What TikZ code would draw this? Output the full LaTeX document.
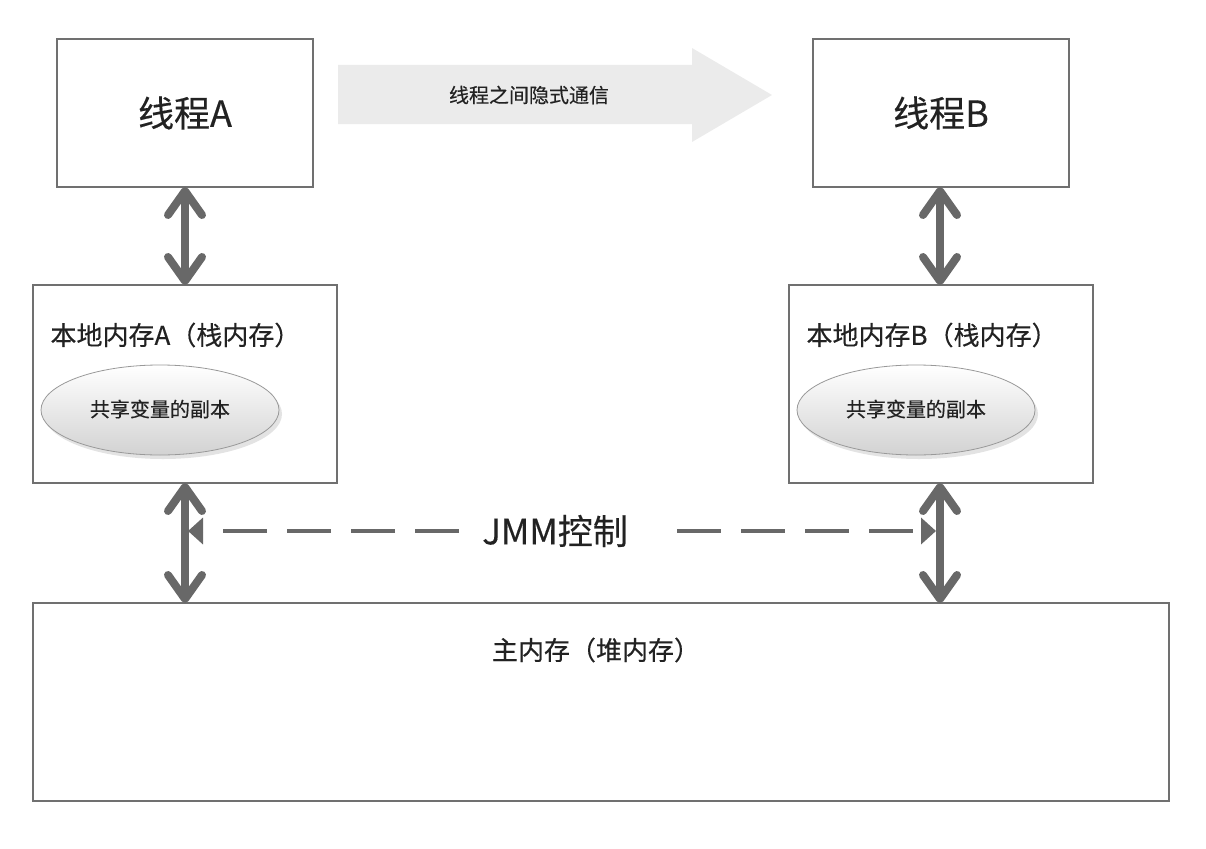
\documentclass[tikz,border=0pt]{standalone}
\usepackage{fontspec}
\setmainfont[FakeBold=0.35]{Noto Sans CJK SC}
\usetikzlibrary{arrows.meta,shapes.geometric,shadows}
\definecolor{boxline}{HTML}{707070}
\definecolor{arrowgray}{HTML}{686868}
\definecolor{txt}{HTML}{222222}
\definecolor{bigarrow}{HTML}{EBEBEB}
\tikzset{
  box/.style={draw=boxline, line width=1.3pt, fill=white, inner sep=0pt},
  titletext/.style={font=\fontsize{36}{42}\selectfont, text=txt},
  labeltext/.style={font=\fontsize{26}{31}\selectfont, text=txt},
  smalltext/.style={font=\fontsize{20}{24}\selectfont, text=txt},
  copyell/.style={ellipse, draw=gray!80, line width=0.8pt, minimum width=238pt, minimum height=90pt,
    top color=white, bottom color=gray!35, inner sep=0pt,
    drop shadow={shadow xshift=3pt, shadow yshift=-4pt, opacity=0.22}},
  dbl/.style={draw=arrowgray, line width=8pt,
    {Straight Barb[round,length=24pt,width=34pt]}-{Straight Barb[round,length=24pt,width=34pt]}},
  jmmline/.style={draw=arrowgray, line width=4pt, dash pattern=on 44pt off 20pt,
    -{Triangle[length=15pt,width=26pt]}},
}
\begin{document}
\begin{tikzpicture}[x=1pt,y=-1pt]
\useasboundingbox (0,0) rectangle (1206,848);
% thread boxes
\node[box, minimum width=256pt, minimum height=148pt] (tA) at (185,113) {};
\node[titletext] (tAt) at (185,113) {线程A};
\node[box, minimum width=256pt, minimum height=148pt] (tB) at (941,113) {};
\node[titletext] (tBt) at (941,113) {线程B};
% big arrow
\fill[bigarrow] (338,65) -- (692,65) -- (692,48) -- (772,95) -- (692,142) -- (692,124) -- (338,124) -- cycle;
\node[smalltext] (comm) at (529,95) {线程之间隐式通信};
% local memories
\node[box, minimum width=304pt, minimum height=198pt] (lA) at (185,384) {};
\node[labeltext, anchor=west] (lAt) at (47,335) {本地内存A（栈内存）};
\node[copyell] (eA) at (160,410) {};
\node[smalltext] (eAt) at (160,409) {共享变量的副本};
\node[box, minimum width=304pt, minimum height=198pt] (lB) at (941,384) {};
\node[labeltext, anchor=west] (lBt) at (803,335) {本地内存B（栈内存）};
\node[copyell] (eB) at (916,410) {};
\node[smalltext] (eBt) at (916,409) {共享变量的副本};
% main memory
\node[box, minimum width=1136pt, minimum height=198pt] (mm) at (601,702) {};
\node[labeltext] (mmt) at (596,650) {主内存（堆内存）};
% vertical double arrows
\coordinate (aTop) at (185,187);
\coordinate (aMid) at (185,285);
\coordinate (bTop) at (940,187);
\coordinate (bMid) at (940,285);
\coordinate (aLow) at (185,483);
\coordinate (aBot) at (185,603);
\coordinate (bLow) at (940,483);
\coordinate (bBot) at (940,603);
\draw[dbl] (aTop) -- (aMid);
\draw[dbl] (bTop) -- (bMid);
\draw[dbl] (aLow) -- (aBot);
\draw[dbl] (bLow) -- (bBot);
% JMM control
\node[font=\fontsize{35}{41}\selectfont, text=txt] (jmm) at (555,531) {JMM控制};
\coordinate (jL) at (459,531);
\coordinate (cL) at (188,531);
\coordinate (jR) at (677,531);
\coordinate (cR) at (936,531);
\draw[jmmline] (jL) -- (cL);
\draw[jmmline] (jR) -- (cR);
\end{tikzpicture}
\end{document}
